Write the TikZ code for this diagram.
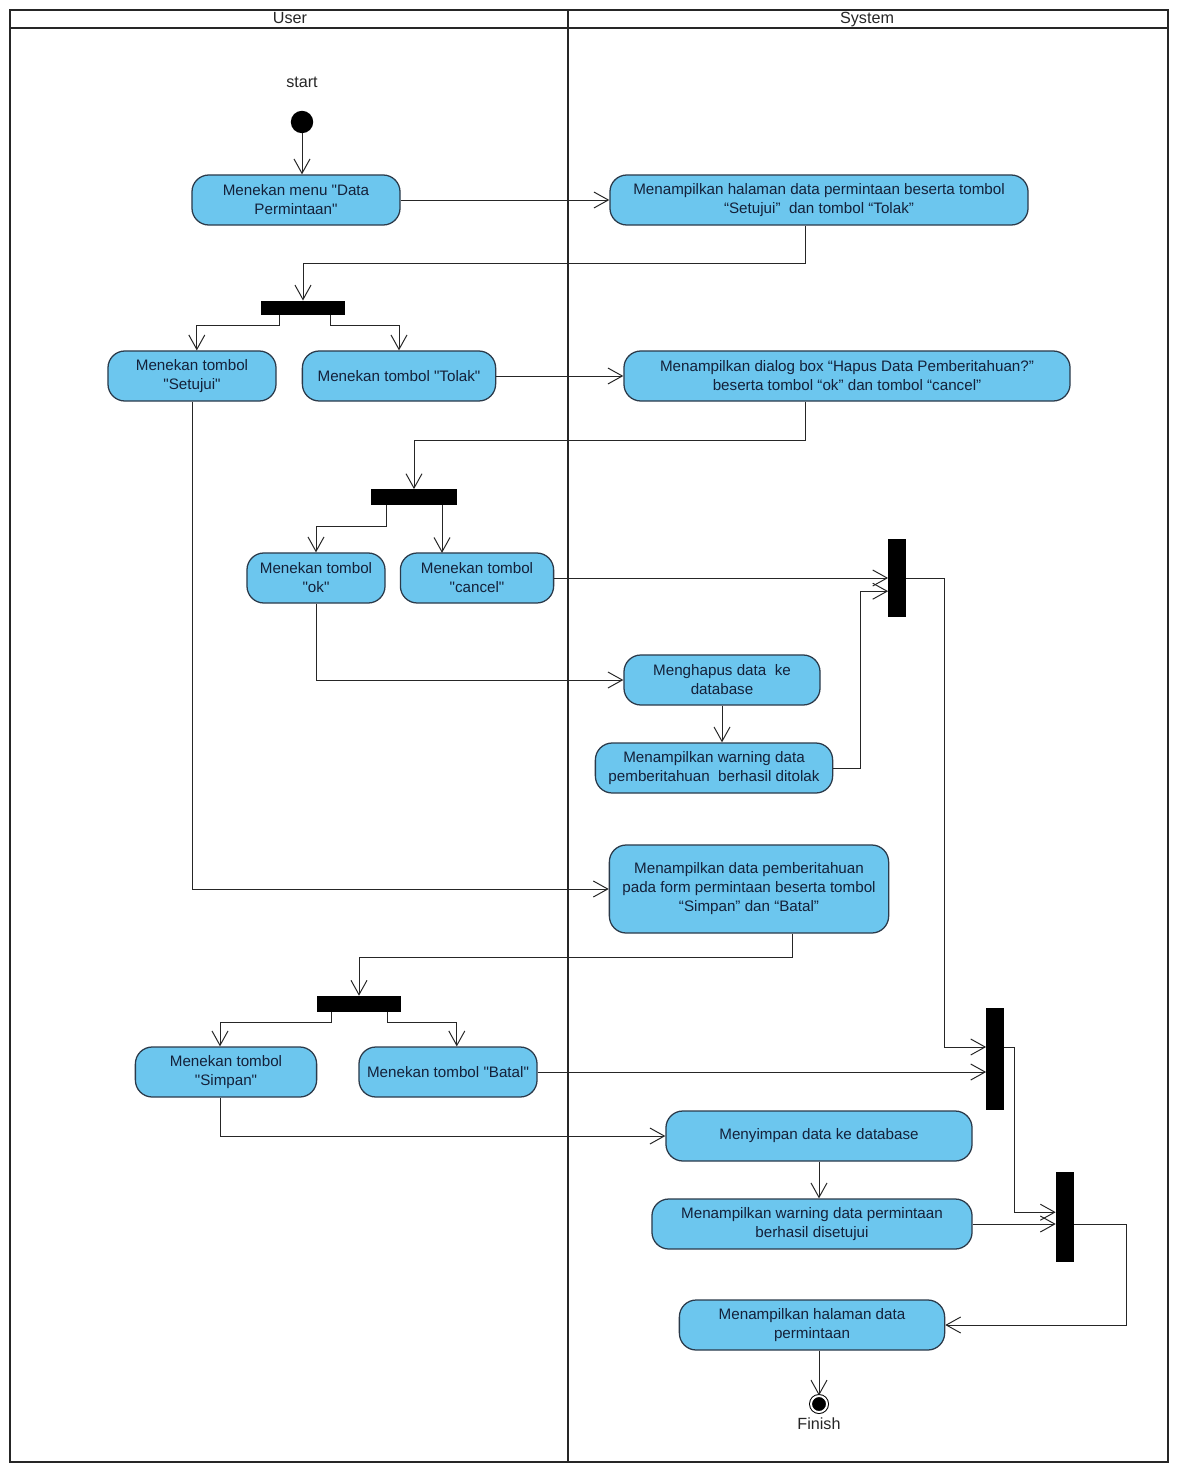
\documentclass[tikz,border=0pt]{standalone}
\usepackage{fontspec}
\setmainfont{Liberation Sans}
\usepackage{tikz}
\usetikzlibrary{arrows.meta,positioning,calc}
\definecolor{actblue}{HTML}{6CC6EE}
\definecolor{actline}{HTML}{2B3A4A}
\definecolor{acttext}{HTML}{14213A}
\newcommand{\sq}{\textquotedbl}
\tikzset{
  activity/.style={rectangle, rounded corners=12pt, draw=actline, line width=0.9pt, fill=actblue, align=center, minimum height=1.25cm, inner sep=2pt, text=acttext, font=\fontsize{10.8}{13.5}\selectfont},
  syncbar/.style={rectangle, fill=black, draw=none, inner sep=0pt},
  initial/.style={circle, fill=black, minimum size=0.56cm, inner sep=0pt},
  final/.style={circle, fill=black, draw=black, double=white, double distance=1.4pt, line width=0.7pt, minimum size=0.4cm, inner sep=0pt},
  lane/.style={line width=1.4pt, draw=black!85},
  flow/.style={-{Straight Barb[length=3.6mm,width=4mm]}, line width=0.7pt, draw=black!85},
  lanetitle/.style={font=\fontsize{11.5}{13}\selectfont, text=black!85},
}
\begin{document}
\begin{tikzpicture}[x=0.025cm, y=-0.025cm]
  \useasboundingbox (0,0) rectangle (1179,1464);
  % swimlanes
  \draw[lane] (10,10) rectangle (1168,1462);
  \draw[line width=2pt, draw=black!85] (10,28) -- (1168,28);
  \draw[lane] (568,10) -- (568,1462);
  \node[lanetitle, anchor=base] (userlane) at (290,24) {User};
  \node[lanetitle, anchor=base] (syslane) at (867,24) {System};

  % start
  \node[initial, label={[lanetitle, label distance=0.45cm]above:start}] (start) at (302,122) {};
  \node[activity, minimum width=5.2cm] (menu) at (296,200) {Menekan menu \sq Data\\Permintaan\sq};
  \node[activity, minimum width=10.45cm] (showpage) at (819,200) {Menampilkan halaman data permintaan beserta tombol\\``Setujui''\ \ dan tombol ``Tolak''};
  \node[syncbar, minimum width=2.1cm, minimum height=0.36cm] (forkA) at (303,308) {};
  \node[activity, minimum width=4.2cm] (setujui) at (192,376) {Menekan tombol\\\sq Setujui\sq};
  \node[activity, minimum width=4.83cm] (tolak) at (399,376) {Menekan tombol \sq Tolak\sq};
  \node[activity, minimum width=11.15cm] (dialog) at (847,376) {Menampilkan dialog box ``Hapus Data Pemberitahuan?''\\beserta tombol ``ok'' dan tombol ``cancel''};
  \node[syncbar, minimum width=2.13cm, minimum height=0.38cm] (forkB) at (414,497) {};
  \node[activity, minimum width=3.45cm] (okbtn) at (316,578) {Menekan tombol\\\sq ok\sq};
  \node[activity, minimum width=3.83cm] (cancelbtn) at (477,578) {Menekan tombol\\\sq cancel\sq};
  \node[syncbar, minimum width=0.43cm, minimum height=1.93cm] (joinA) at (897,578) {};
  \node[activity, minimum width=4.9cm] (hapus) at (722,680) {Menghapus data\ \ ke\\database};
  \node[activity, minimum width=5.93cm] (warntolak) at (714,768) {Menampilkan warning data\\pemberitahuan\ \ berhasil ditolak};
  \node[activity, minimum width=6.98cm, minimum height=2.2cm] (showform) at (749,889) {Menampilkan data pemberitahuan\\pada form permintaan beserta tombol\\``Simpan'' dan ``Batal''};
  \node[syncbar, minimum width=2.1cm, minimum height=0.4cm] (forkC) at (359,1004) {};
  \node[activity, minimum width=4.53cm] (simpan) at (226,1072) {Menekan tombol\\\sq Simpan\sq};
  \node[activity, minimum width=4.45cm] (batal) at (448,1072) {Menekan tombol \sq Batal\sq};
  \node[syncbar, minimum width=0.43cm, minimum height=2.55cm] (joinB) at (995,1059) {};
  \node[activity, minimum width=7.65cm] (menyimpan) at (819,1136) {Menyimpan data ke database};
  \node[activity, minimum width=8cm] (warnsetuju) at (812,1224) {Menampilkan warning data permintaan\\berhasil disetujui};
  \node[syncbar, minimum width=0.45cm, minimum height=2.23cm] (joinC) at (1065,1217) {};
  \node[activity, minimum width=6.63cm] (halaman) at (812,1325) {Menampilkan halaman data\\permintaan};
  \node[final, label={[lanetitle]below:Finish}] (finish) at (819,1404) {};

  % flows
  \draw[flow] (start) -- (start |- menu.north);
  \draw[flow] (menu) -- (showpage);
  \draw[flow] ([xshift=-0.35cm]showpage.south) -- ++(0,38) -| (forkA.north);
  \draw[flow] ([xshift=-0.58cm]forkA.south) -- ++(0,10) -| ([xshift=0.12cm]setujui.north);
  \draw[flow] ([xshift=0.68cm]forkA.south) -- ++(0,10) -| (tolak.north);
  \draw[flow] (tolak) -- (dialog);
  \draw[flow] ([xshift=-1.05cm]dialog.south) -- ++(0,39) -| (forkB.north);
  \draw[flow] ([xshift=-0.68cm]forkB.south) -- ++(0,22) -| (okbtn.north);
  \draw[flow] ([xshift=0.7cm]forkB.south) -- ++(0,48);
  \draw[flow] (cancelbtn.east) -- (cancelbtn.east -| joinA.west);
  \draw[flow] (okbtn.south) |- (hapus.west);
  \draw[flow] (hapus.south) -- (hapus.south |- warntolak.north);
  \draw[flow] (warntolak.east) -- ++(27,0) |- ([yshift=-0.33cm]joinA.west);
  \draw[flow] (joinA.east) -- ++(39,0) |- ([yshift=0.3cm]joinB.west);
  \draw[flow] (setujui.south) |- (showform.west);
  \draw[flow] ([xshift=1.08cm]showform.south) -- ++(0,24) -| (forkC.north);
  \draw[flow] ([xshift=-0.7cm]forkC.south) -- ++(0,10) -| ([xshift=-0.15cm]simpan.north);
  \draw[flow] ([xshift=0.7cm]forkC.south) -- ++(0,10) -| ([xshift=0.22cm]batal.north);
  \draw[flow] (batal.east) -- (batal.east -| joinB.west);
  \draw[flow] ([xshift=-0.15cm]simpan.south) |- (menyimpan.west);
  \draw[flow] (menyimpan.south) -- (menyimpan.south |- warnsetuju.north);
  \draw[flow] (warnsetuju.east) -- (warnsetuju.east -| joinC.west);
  \draw[flow] ([yshift=0.3cm]joinB.east) -- ++(11,0) |- ([yshift=0.12cm]joinC.west);
  \draw[flow] ([yshift=-0.18cm]joinC.east) -- ++(52,0) |- (halaman.east);
  \draw[flow] (finish |- halaman.south) -- (finish);
\end{tikzpicture}
\end{document}
